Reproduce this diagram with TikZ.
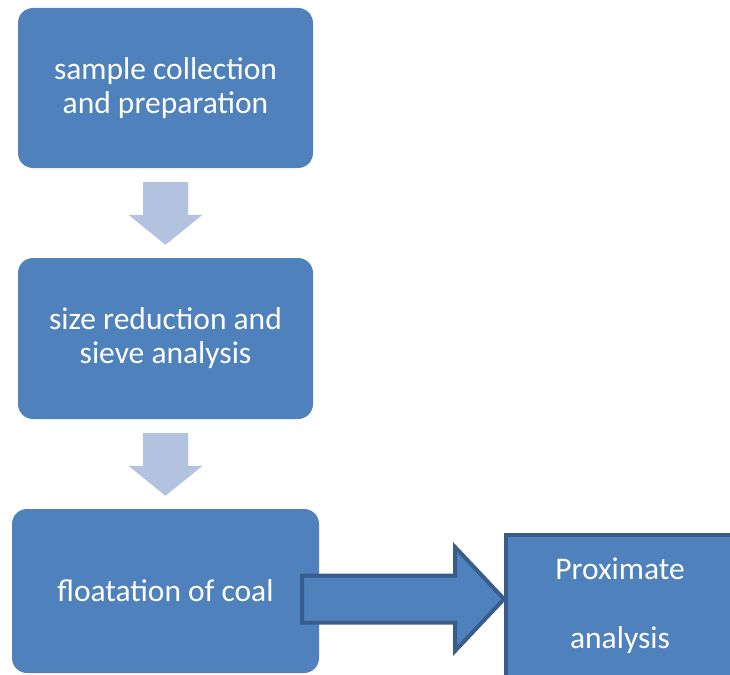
\documentclass[tikz,border=0pt]{standalone}
\usepackage{fontspec}
\setmainfont{Carlito}
\usetikzlibrary{calc}
\definecolor{boxblue}{RGB}{79,129,189}
\definecolor{edgeblue}{RGB}{56,93,138}
\definecolor{paleblue}{RGB}{179,194,222}

\begin{document}
\begin{tikzpicture}[x=1pt, y=-1pt, font=\fontsize{31.5}{34}\selectfont,
    stepbox/.style={fill=boxblue, rounded corners=15pt, text=white, align=center, inner sep=0pt},
    endbox/.style={fill=boxblue, draw=edgeblue, line width=4pt, inner sep=0pt},
    downarrow/.style={fill=paleblue, draw=none},
    blockarrow/.style={fill=boxblue, draw=edgeblue, line width=4pt, line join=miter}]

    % Page frame
    \useasboundingbox (0, 0) rectangle (730, 674);
    \clip (0, 0) rectangle (730, 674);

    % Process steps
    \node[stepbox, minimum width=295pt, minimum height=160pt] (collect) at (165.5, 88) {sample collection\\and preparation};
    \node[stepbox, minimum width=295pt, minimum height=161pt] (sieve) at (165.5, 338.5) {size reduction and\\sieve analysis};
    \node[stepbox, minimum width=307pt, minimum height=164pt] (float) at (165.5, 591) {floatation of coal};

    % Analysis box, running off the page
    \node[endbox, minimum width=240pt, minimum height=160pt] (prox) at (626, 615) {};
    \node[text=white, align=center, inner sep=0pt, font=\fontsize{31.5}{69}\selectfont] (proxtext) at (620, 606) {Proximate\\analysis};

    % Pale down arrows between the steps
    \foreach \a/\b in {collect/sieve, sieve/float} {
        \coordinate (t) at ($(\a.south)+(0,14)$);
        \coordinate (h) at ($(\b.north)+(0,-13)$);
        \path[downarrow] ($(t)+(-22.5,0)$) -- ($(t)+(22.5,0)$) -- ($(h)+(22.5,-30)$) -- ($(h)+(37,-30)$)
            -- (h) -- ($(h)+(-37,-30)$) -- ($(h)+(-22.5,-30)$) -- cycle;
    }

    % Block arrow to the analysis box
    \coordinate (tail) at ($(float.east)+(-17,8)$);
    \coordinate (tip) at (tail -| prox.west);
    \draw[blockarrow] ($(tail)+(0,-23.5)$) -- ($(tip)+(-49,-23.5)$) -- ($(tip)+(-49,-52)$) -- (tip)
        -- ($(tip)+(-49,52)$) -- ($(tip)+(-49,23.5)$) -- ($(tail)+(0,23.5)$) -- cycle;

\end{tikzpicture}
\end{document}
